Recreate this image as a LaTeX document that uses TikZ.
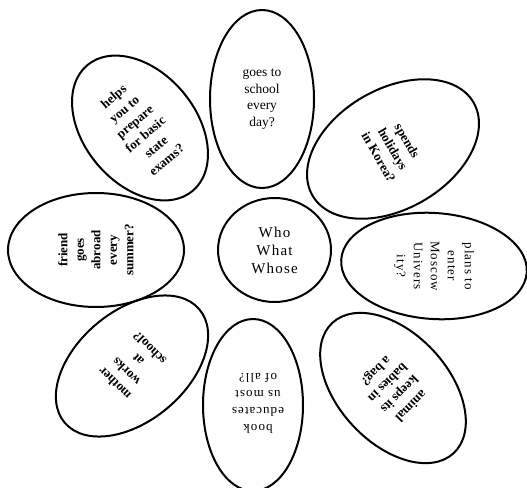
\documentclass[tikz,border=0pt]{standalone}
\usepackage{fontspec}
\setmainfont{Liberation Serif}
\newfontfamily\spaced[LetterSpace=8]{Liberation Serif}
\usetikzlibrary{shapes.geometric}

\begin{document}
\begin{tikzpicture}[
  x=1pt, y=-1pt,
  petal/.style={draw, ellipse, line width=2pt, inner sep=0pt},
  word/.style={align=center, inner sep=0pt, font=\fontsize{13.5}{16.5}\selectfont},
  heavy/.style={word, font=\bfseries\fontsize{13}{16.5}\selectfont},
  wide/.style={align=center, inner sep=0pt, font=\spaced\fontsize{13}{17}\selectfont}
]
\useasboundingbox (0,0) rectangle (527,487);
% petals
\node[petal, minimum width=113, minimum height=104] (hub) at (274.5,250) {};
\node[petal, minimum width=104, minimum height=178] (top) at (262,99) {};
\node[petal, minimum width=164, minimum height=112, rotate=-50] (helps) at (140,128) {};
\node[petal, minimum width=186, minimum height=120, rotate=30] (spends) at (393,149) {};
\node[petal, minimum width=176, minimum height=114] (friend) at (96,250) {};
\node[petal, minimum width=186, minimum height=106, rotate=-4] (plans) at (434,266) {};
\node[petal, minimum width=176, minimum height=110, rotate=40] (mother) at (132,366) {};
\node[petal, minimum width=100, minimum height=172] (book) at (253,405) {};
\node[petal, minimum width=178, minimum height=110, rotate=-47] (animal) at (393,388) {};
% texts
\node[wide, font=\spaced\fontsize{15}{18}\selectfont] (hubText) at (hub) {Who\\What\\Whose};
\node[word] (topText) at (top) {goes to\\school\\every\\day?};
\node[heavy, rotate=40] (helpsText) at (helps) {helps\\you to\\prepare\\for basic\\state\\exams?};
\node[heavy, rotate=-60] (spendsText) at (spends) {spends\\holidays\\in Korea?};
\node[heavy, rotate=90] (friendText) at (friend) {friend\\goes\\abroad\\every\\summer?};
\node[wide, rotate=-90] (plansText) at (plans) {plans to\\enter\\Moscow\\Univers\\ity?};
\node[heavy, rotate=135] (motherText) at (mother) {mother\\works\\at\\school?};
\node[wide, rotate=180] (bookText) at (258,403) {book\\educates\\us most\\of all?};
\node[heavy, rotate=-135] (animalText) at (animal) {animal\\keeps its\\babies in\\a bag?};
\end{tikzpicture}
\end{document}
